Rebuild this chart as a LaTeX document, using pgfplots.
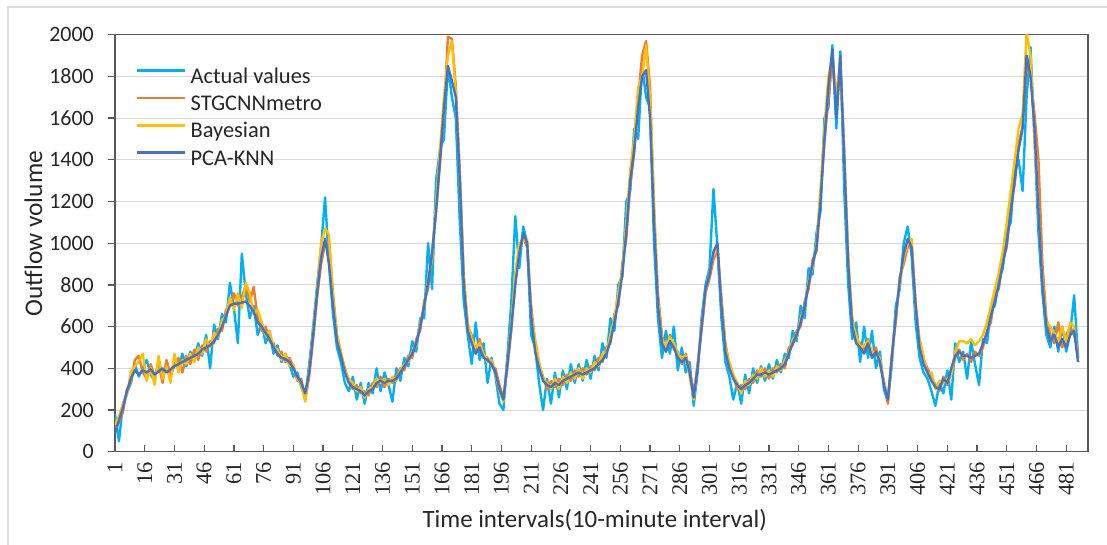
\documentclass[border=0pt]{standalone}
\usepackage{pgfplots}
\pgfplotsset{compat=1.18}
\usepackage{pgfplotstable}
\usepackage{fontspec}
\setmainfont{Carlito}
\newfontfamily\tickfont{Liberation Serif}

\definecolor{cAct}{HTML}{00B0F0}
\definecolor{cStg}{HTML}{ED7D31}
\definecolor{cBay}{HTML}{FFC000}
\definecolor{cPca}{HTML}{4472C4}
\definecolor{txt}{HTML}{262626}
\definecolor{gridc}{HTML}{D9D9D9}
\definecolor{axc}{HTML}{595959}

% x: interval, act: actual values, stg: STGCNNmetro, bay: Bayesian, pca: PCA-KNN
\pgfplotstableread{
x act stg bay pca
1 180 110 130 90
3 50 140 170 150
5 230 190 230 210
7 280 300 270 290
9 330 330 380 350
11 420 440 410 390
13 360 460 430 370
15 400 380 470 390
17 440 350 340 380
19 370 420 400 395
21 340 360 320 370
23 430 420 460 385
25 380 330 350 400
27 410 440 410 380
29 350 370 330 395
31 440 410 470 410
33 400 450 380 420
35 470 380 440 430
37 410 460 420 440
39 480 420 470 450
41 440 490 430 460
43 520 440 500 470
45 460 510 470 490
47 560 480 540 500
49 400 530 500 510
51 610 520 570 530
53 540 590 550 560
55 660 580 630 600
57 620 680 650 650
59 810 700 740 700
61 690 760 680 710
63 520 700 760 710
65 950 740 690 715
67 760 800 810 720
69 640 720 760 700
71 700 790 660 670
73 560 640 680 620
75 620 580 620 600
77 520 600 560 570
79 570 530 580 540
81 470 520 500 500
83 510 460 490 470
85 430 480 440 450
87 470 430 470 445
89 420 450 410 430
91 360 410 420 400
93 380 340 350 360
95 310 350 320 330
97 260 250 240 280
99 420 360 400 380
101 600 540 580 560
103 800 740 780 760
105 980 900 1000 930
107 1220 1000 1070 1020
109 900 1010 1040 900
111 660 760 740 700
113 500 560 560 530
115 430 470 480 460
117 330 400 390 380
119 290 340 350 330
121 360 300 330 310
123 250 320 290 300
125 330 280 310 290
127 230 290 260 270
129 330 270 300 290
131 280 330 310 300
133 400 310 350 330
135 290 360 330 340
137 380 310 350 330
139 320 350 320 340
141 240 330 360 340
143 400 360 340 350
145 340 400 390 380
147 450 390 420 410
149 410 460 430 440
151 530 450 480 470
153 480 540 510 520
155 640 580 620 600
157 640 720 690 700
159 1000 780 830 810
161 780 960 920 950
163 1300 1150 1200 1150
165 1450 1380 1450 1400
167 1500 1620 1700 1650
169 1850 1990 1900 1850
171 1700 1980 1970 1780
173 1600 1750 1720 1700
175 1100 1350 1300 1300
177 720 850 820 800
179 560 600 620 580
181 420 560 540 520
183 620 480 500 470
185 440 540 520 500
187 520 460 470 450
189 330 450 430 440
191 450 410 440 420
193 360 400 370 380
195 230 320 290 300
197 200 260 240 250
199 460 400 430 420
201 720 580 620 600
203 1130 820 860 800
205 880 980 1000 950
207 1080 1030 1010 1050
209 1000 980 1020 1000
211 560 700 660 650
213 500 520 540 480
215 330 420 430 400
217 200 360 350 340
219 350 300 330 320
221 230 340 300 310
223 380 310 350 330
225 260 350 300 320
227 390 320 360 340
229 300 370 330 350
231 420 340 380 360
233 330 390 350 370
235 420 360 400 380
237 340 400 350 370
239 440 370 400 380
241 350 410 380 390
243 460 390 430 400
245 390 450 410 420
247 520 430 470 440
249 450 500 480 470
251 640 520 560 530
253 580 660 640 620
255 800 700 760 720
257 840 900 870 850
259 1200 1020 1100 1050
261 1250 1280 1350 1300
263 1550 1430 1500 1450
265 1500 1700 1750 1650
267 1850 1900 1800 1800
269 1700 1970 1950 1830
271 1650 1750 1700 1600
273 1000 1150 1200 1100
275 640 760 720 700
277 450 560 540 520
279 580 480 500 480
281 470 560 550 530
283 600 490 520 500
285 390 480 470 450
287 500 420 450 430
289 380 470 460 450
291 430 390 360 380
293 220 280 250 260
295 380 420 400 400
297 640 580 620 600
299 800 760 770 780
301 880 830 860 850
303 1260 920 940 960
305 980 970 990 1000
307 640 740 720 700
309 430 520 500 480
311 360 420 430 400
313 250 360 370 350
315 330 300 330 320
317 230 320 280 300
319 370 300 340 320
321 280 350 320 330
323 400 330 370 350
325 330 390 350 370
327 410 360 400 370
329 340 400 360 380
331 420 350 390 370
333 350 400 360 380
335 440 380 410 390
337 380 420 390 400
339 470 400 440 420
341 450 500 470 470
343 580 510 540 520
345 530 580 550 560
347 700 600 640 620
349 640 720 700 700
351 880 780 820 800
353 850 920 880 900
355 1050 960 1000 980
357 1150 1220 1260 1200
359 1600 1480 1550 1500
361 1650 1700 1800 1750
363 1950 1880 1900 1930
365 1550 1650 1700 1600
367 1920 1850 1880 1900
369 1250 1450 1400 1400
371 800 900 950 900
373 540 640 620 600
375 620 540 560 520
377 430 520 500 500
379 600 480 510 470
381 450 540 530 520
383 580 460 480 450
385 400 500 470 480
387 480 420 450 430
389 300 340 330 320
391 240 230 260 250
393 420 470 440 450
395 700 620 660 650
397 780 840 800 820
399 1000 900 930 950
401 1080 980 1000 1020
403 940 1000 1020 980
405 620 720 680 700
407 450 520 540 500
409 380 440 460 420
411 350 400 370 380
413 290 360 380 340
415 220 320 300 310
417 330 290 340 300
419 280 360 330 350
421 390 320 350 330
423 250 380 370 400
425 520 450 480 460
427 430 490 530 480
429 480 440 530 460
431 350 470 520 460
433 530 430 540 450
435 420 480 510 460
437 320 460 530 470
439 540 500 560 520
441 520 580 620 570
443 680 620 700 650
445 700 760 780 720
447 820 780 860 800
449 880 920 960 900
451 1050 980 1100 1000
453 1100 1180 1250 1150
455 1350 1280 1400 1300
457 1400 1480 1550 1450
459 1250 1560 1620 1550
461 1700 1850 2010 1900
463 1940 1800 1900 1800
465 1500 1620 1500 1550
467 1050 1400 1150 1150
469 760 900 820 800
471 560 640 620 600
473 500 560 600 530
475 600 520 570 560
477 480 620 530 500
479 600 500 600 540
481 480 560 520 500
483 570 600 620 560
485 750 560 600 580
487 450 480 430 430
}\flowdata

\begin{document}
\begin{tikzpicture}
\begin{axis}[
  width=973bp, height=417bp, scale only axis,
  xmin=1, xmax=492, ymin=0, ymax=2000,
  enlargelimits=false,
  xtick={1,16,...,481},
  ytick={0,200,...,2000},
  /pgf/number format/assume math mode=true,
  /pgf/number format/1000 sep={},
  ymajorgrids, grid style={gridc, line width=1bp},
  axis line style={axc, line width=1.3bp},
  tick align=inside, major tick length=7bp,
  xtick pos=left, ytick pos=left,
  tick style={axc, line width=1.2bp},
  ytick style={xshift=-7bp},
  yticklabel style={font=\fontsize{22}{24}\selectfont, text=txt, inner sep=0pt, anchor=east, xshift=-21bp},
  xticklabel style={font=\tickfont\fontsize{22.5}{24}\selectfont, text=txt, rotate=90, anchor=east, inner sep=0pt, inner xsep=10bp},
  xlabel={Time intervals(10-minute interval)},
  ylabel={Outflow volume},
  xlabel style={font=\fontsize{25}{28}\selectfont, text=txt, at={(axis description cs:0.493,-0.1806)}, anchor=base},
  ylabel style={font=\fontsize{25.5}{28}\selectfont, text=txt, at={(axis description cs:-0.075,0.523)}, anchor=base},
  legend style={draw=none, fill=none, at={(axis description cs:0.0216,0.922)}, anchor=north west,
    inner sep=0pt, outer sep=0pt, row sep=6.3bp,
    font=\fontsize{22.5}{26}\selectfont, text=txt,
    nodes={inner sep=0pt, text height=16bp, text depth=5bp},
    /tikz/every odd column/.append style={column sep=4bp}},
  legend cell align=left,
  legend image code/.code={\draw[#1, line width=2.6bp] (0bp,7bp) -- (48bp,7bp);},
  every axis plot/.append style={line width=2.4bp, line join=round},
]
\addplot[cAct] table[x=x, y=act] {\flowdata};
\addlegendentry{Actual values}
\addplot[cStg] table[x=x, y=stg] {\flowdata};
\addlegendentry{STGCNNmetro}
\addplot[cBay] table[x=x, y=bay] {\flowdata};
\addlegendentry{Bayesian}
\addplot[cPca] table[x=x, y=pca] {\flowdata};
\addlegendentry{PCA-KNN}
\end{axis}
\draw[gray!25, line width=1.2bp] (-107bp,-93.3bp) -- (-107bp,444.7bp) -- (992bp,444.7bp);
\pgfresetboundingbox
\path[use as bounding box] (-115bp,-93.3bp) rectangle (992bp,451.7bp);
\end{tikzpicture}
\end{document}
